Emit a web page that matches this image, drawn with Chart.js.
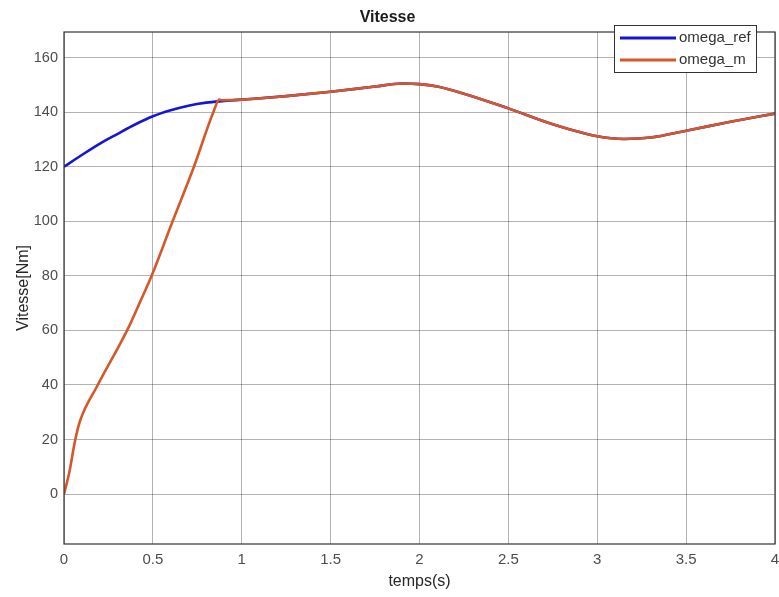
<!DOCTYPE html>
<html>
<head>
<meta charset="utf-8">
<script src="https://cdn.jsdelivr.net/npm/chart.js@4/dist/chart.umd.min.js"></script>
<style>
  html, body { margin: 0; padding: 0; background: #fff; }
  #wrap { width: 779px; height: 597px; }
</style>
</head>
<body>
<div id="wrap"><canvas id="vitesseChart"></canvas></div>
<script>
// ---- data ----
var seriesNames = ['omega_ref', 'omega_m'];

// start of the reference curve (before both curves merge)
var refTime  = [0, 0.1, 0.2, 0.3, 0.4, 0.5, 0.6, 0.7, 0.8, 0.9];
var refOmega = [120, 124.3, 128.4, 132, 135.5, 138.5, 140.7, 142.4, 143.5, 144.1];

// start of the measured speed (fast ramp)
var mesTime  = [0, 0.03, 0.062, 0.09, 0.19, 0.355, 0.425, 0.493, 0.611, 0.731, 0.84, 0.874, 0.89];
var mesOmega = [0, 8, 19.5, 26.8, 40, 60, 70, 80, 100, 120, 140, 144.6, 144.4];

// shared part, both curves overlap
var tailTime  = [1.0, 1.25, 1.5, 1.75, 1.9, 2.0, 2.1, 2.25, 2.5, 2.75, 3.0, 3.15, 3.3, 3.5, 3.75, 4.0];
var tailOmega = [144.6, 145.9, 147.5, 149.4, 150.5, 150.3, 149.4, 146.8, 141.4, 135.6, 131.2, 130.2, 130.7, 133.2, 136.5, 139.5];

var xTicks = [0, 0.5, 1, 1.5, 2, 2.5, 3, 3.5, 4];
var yTicks = [0, 20, 40, 60, 80, 100, 120, 140, 160];

function toPoints(t, v) {
  return t.map(function (x, i) { return { x: x, y: v[i] }; });
}

var refPoints = toPoints(refTime.concat(tailTime), refOmega.concat(tailOmega));
var mesPoints = toPoints(mesTime.concat(tailTime), mesOmega.concat(tailOmega));

// frame around the axes + matlab style legend box
var matlabBox = {
  id: 'matlabBox',
  afterDatasetsDraw: function (chart) {
    var ctx = chart.ctx, a = chart.chartArea;
    ctx.save();
    ctx.strokeStyle = '#333';
    ctx.lineWidth = 1.2;
    ctx.strokeRect(a.left, a.top, a.right - a.left, a.bottom - a.top);

    var w = 142, h = 47;
    var x0 = a.right - 19 - w, y0 = a.top - 7;
    ctx.fillStyle = '#fff';
    ctx.fillRect(x0, y0, w, h);
    ctx.strokeStyle = '#333';
    ctx.lineWidth = 1;
    ctx.strokeRect(x0 + 0.5, y0 + 0.5, w, h);

    ctx.font = '15px "Liberation Sans", Arial, sans-serif';
    ctx.textBaseline = 'middle';
    ctx.textAlign = 'left';
    chart.data.datasets.forEach(function (ds, i) {
      var yy = y0 + 13 + i * 22;
      ctx.strokeStyle = ds.borderColor;
      ctx.lineWidth = 3;
      ctx.beginPath();
      ctx.moveTo(x0 + 6, yy);
      ctx.lineTo(x0 + 62, yy);
      ctx.stroke();
      ctx.fillStyle = '#333';
      ctx.fillText(ds.label, x0 + 65, yy);
    });
    ctx.restore();
  }
};

var canvas = document.getElementById('vitesseChart');

var vitesseChart = new Chart(canvas, {
  type: 'line',
  data: {
    datasets: [
      {
        label: seriesNames[0],
        data: refPoints,
        borderColor: '#1515d6',
        borderWidth: 2.6,
        pointRadius: 0,
        cubicInterpolationMode: 'monotone',
        order: 1
      },
      {
        label: seriesNames[1],
        data: mesPoints,
        borderColor: '#d4582a',
        borderWidth: 2.6,
        pointRadius: 0,
        cubicInterpolationMode: 'monotone',
        order: 0
      }
    ]
  },
  options: {
    responsive: true,
    maintainAspectRatio: false,
    animation: false,
    layout: { padding: { left: 0, right: 4, top: 0, bottom: 0 } },
    plugins: {
      legend: { display: false },
      tooltip: { enabled: false },
      title: {
        display: true,
        text: 'Vitesse',
        color: '#1a1a1a',
        font: { family: '"Liberation Sans", Arial, sans-serif', size: 16, weight: 'bold' },
        padding: { top: 8.4, bottom: 4.4 }
      }
    },
    scales: {
      x: {
        type: 'linear',
        min: 0,
        max: 4,
        afterBuildTicks: function (scale) {
          scale.ticks = xTicks.map(function (v) { return { value: v }; });
        },
        afterFit: function (scale) {
          scale.height = 53;
          scale.paddingLeft = 0;
          scale.paddingRight = 0;
        },
        ticks: {
          color: '#4d4d4d',
          padding: 7,
          maxRotation: 0,
          callback: function (v) { return String(v); },
          font: { family: '"Liberation Sans", Arial, sans-serif', size: 15 }
        },
        grid: { color: 'rgba(0,0,0,0.3)', lineWidth: 1, drawTicks: false },
        border: { display: false },
        title: {
          display: true,
          text: 'temps(s)',
          color: '#262626',
          padding: { top: 0, bottom: 5.4 },
          font: { family: '"Liberation Sans", Arial, sans-serif', size: 16 }
        }
      },
      y: {
        type: 'linear',
        min: -18.3,
        max: 169.4,
        afterBuildTicks: function (scale) {
          scale.ticks = yTicks.map(function (v) { return { value: v }; });
        },
        afterFit: function (scale) {
          scale.width = 64;
          scale.paddingTop = 0;
          scale.paddingBottom = 0;
        },
        ticks: {
          color: '#4d4d4d',
          padding: 6,
          font: { family: '"Liberation Sans", Arial, sans-serif', size: 14.5 }
        },
        grid: { color: 'rgba(0,0,0,0.3)', lineWidth: 1, drawTicks: false },
        border: { display: false },
        title: {
          display: true,
          text: 'Vitesse[Nm]',
          color: '#262626',
          padding: { top: 14, bottom: 0 },
          font: { family: '"Liberation Sans", Arial, sans-serif', size: 16 }
        }
      }
    }
  },
  plugins: [matlabBox]
});
</script>
</body>
</html>
